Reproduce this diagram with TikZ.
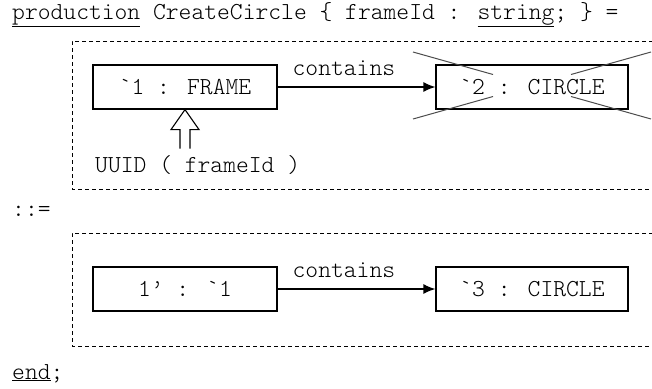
\documentclass[tikz,border=0pt]{standalone}
\usetikzlibrary{calc,arrows.meta}
\tikzset{
  code/.style={font=\ttfamily\fontseries{l}\fontsize{24.4}{28}\selectfont, inner sep=0pt},
  obj/.style={code, draw, line width=1.2pt, minimum height=44pt},
  rule/.style={draw=black, line width=0.9pt, dash pattern=on 4pt off 3pt},
  link/.style={line width=1.4pt, -{Latex[length=12pt,width=10pt]}},
  strike/.style={black!70, line width=1pt},
  hollow/.style={line width=1.1pt}
}

\begin{document}
\begin{tikzpicture}[x=1pt,y=-1pt]
\useasboundingbox (0,0) rectangle (652,388);

% left hand side
\node[code, anchor=base west] (head) at (12,19) {\underline{production} CreateCircle \{ frameId : \underline{string}; \} =};
\draw[rule] (660,41) -| (72,189) -- (660,189);

\node[obj, minimum width=184pt] (frame) at (185,87) {\textasciigrave1 : FRAME};
\node[obj, minimum width=192pt] (del) at (532,87) {\textasciigrave2 : CIRCLE};
\draw[strike] ($(del)+(-119,-35)$) -- ($(del)+(-39,-12.5)$)
              ($(del)+(39,9.5)$) -- ($(del)+(119,32)$)
              ($(del)+(-119,32)$) -- ($(del)+(-39,9.5)$)
              ($(del)+(39,-12.5)$) -- ($(del)+(119,-35)$);
\draw[link] (frame) -- (del) node[code, pos=0.42, anchor=base, yshift=12pt] {contains};

\node[code, anchor=base west] (uuid) at (95,172) {UUID ( frameId )};
\draw[hollow] ($(frame.south)+(-5,39)$) -- ++(0,-19) -- ++(-9,0) -- (frame.south)
              -- ++(14,20) -- ++(-9,0) -- ++(0,19);

\node[code, anchor=base west] (eq) at (12,216) {::=};

% right hand side
\draw[rule] (660,233) -| (72,346) -- (660,346);
\node[obj, minimum width=184pt] (keep) at (185,289) {1\textquoteright{} : \textasciigrave1};
\node[obj, minimum width=192pt] (add) at (532,289) {\textasciigrave3 : CIRCLE};
\draw[link] (keep) -- (add) node[code, pos=0.42, anchor=base, yshift=12pt] {contains};

\node[code, anchor=base west] (fin) at (12,379) {\underline{end};};
\end{tikzpicture}
\end{document}
